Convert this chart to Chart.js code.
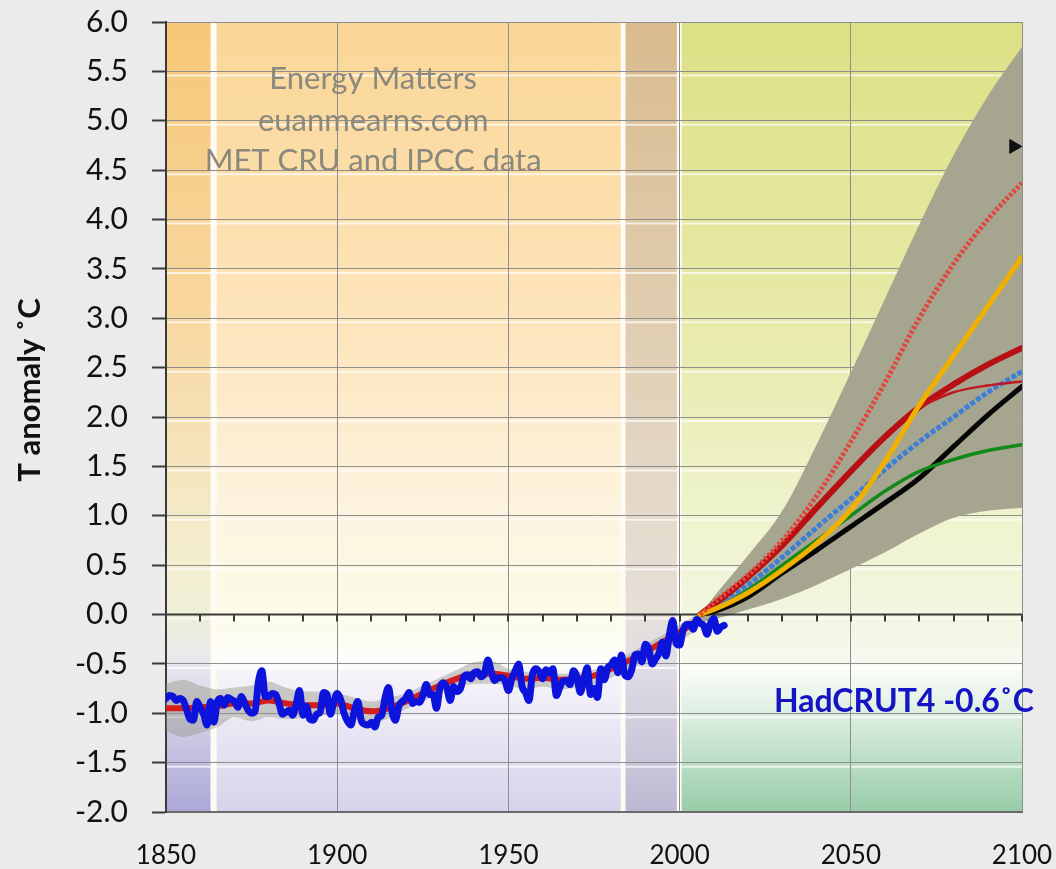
<!DOCTYPE html>
<html><head><meta charset="utf-8">
<script src="https://cdn.jsdelivr.net/npm/chart.js@4.4.0/dist/chart.umd.min.js"></script>
<style>html,body{margin:0;padding:0;background:#ebebeb;}canvas{display:block}</style>
</head><body>
<canvas id="c" width="1056" height="869"></canvas>
<script>
// ---------------- DATA ----------------
const hadStartYear = 1850;
const hadcrut4 = [-0.85,-0.82,-0.83,-0.87,-0.85,-0.87,-0.96,-1.06,-1.07,-0.88,
 -0.94,-1.01,-1.12,-0.88,-1.09,-0.88,-0.85,-0.92,-0.84,-0.86,
 -0.88,-0.94,-0.83,-0.90,-0.97,-1.00,-0.98,-0.68,-0.57,-0.83,
 -0.83,-0.80,-0.81,-0.90,-1.01,-0.99,-0.97,-1.02,-0.91,-0.77,
 -1.02,-0.93,-1.06,-1.07,-1.01,-0.99,-0.79,-0.81,-1.01,-0.89,
 -0.80,-0.86,-1.00,-1.08,-1.12,-0.98,-0.88,-1.07,-1.11,-1.12,
 -1.09,-1.14,-1.04,-1.02,-0.84,-0.74,-0.98,-1.07,-0.93,-0.88,
 -0.85,-0.79,-0.90,-0.88,-0.89,-0.82,-0.71,-0.81,-0.81,-0.95,
 -0.74,-0.69,-0.74,-0.87,-0.73,-0.78,-0.75,-0.63,-0.61,-0.65,
 -0.59,-0.58,-0.63,-0.60,-0.46,-0.58,-0.67,-0.64,-0.64,-0.67,
 -0.77,-0.65,-0.57,-0.50,-0.73,-0.79,-0.87,-0.61,-0.55,-0.58,
 -0.65,-0.56,-0.59,-0.55,-0.82,-0.74,-0.67,-0.67,-0.71,-0.57,
 -0.63,-0.79,-0.67,-0.54,-0.81,-0.75,-0.84,-0.55,-0.66,-0.54,
 -0.51,-0.46,-0.59,-0.41,-0.61,-0.63,-0.56,-0.41,-0.40,-0.48,
 -0.30,-0.35,-0.50,-0.45,-0.39,-0.28,-0.42,-0.21,-0.06,-0.29,
 -0.31,-0.16,-0.10,-0.10,-0.15,-0.05,-0.09,-0.11,-0.20,-0.09,
 -0.04,-0.17,-0.13,-0.11];

const histYears = [1850,1855,1860,1865,1870,1875,1880,1885,1890,1895,1900,1905,1910,1915,1920,1925,1930,1935,1940,1945,1950,1955,1960,1965,1970,1975,1980,1985,1990,1995,2000,2005];
const histModel = [-0.95,-0.95,-0.94,-0.93,-0.90,-0.90,-0.87,-0.90,-0.92,-0.92,-0.90,-0.95,-0.98,-0.95,-0.88,-0.80,-0.72,-0.65,-0.60,-0.60,-0.62,-0.65,-0.64,-0.66,-0.65,-0.62,-0.55,-0.47,-0.38,-0.28,-0.18,-0.06];
const histUpper = [-0.70,-0.66,-0.72,-0.76,-0.74,-0.72,-0.68,-0.74,-0.78,-0.78,-0.80,-0.84,-0.88,-0.84,-0.80,-0.72,-0.64,-0.56,-0.48,-0.47,-0.55,-0.58,-0.57,-0.60,-0.59,-0.56,-0.48,-0.40,-0.30,-0.21,-0.10,0.00];
const histLower = [-1.18,-1.24,-1.20,-1.14,-1.04,-1.08,-1.04,-1.06,-1.05,-1.03,-1.00,-1.05,-1.10,-1.05,-0.96,-0.88,-0.80,-0.74,-0.70,-0.70,-0.72,-0.76,-0.73,-0.76,-0.74,-0.71,-0.64,-0.55,-0.47,-0.37,-0.27,-0.16];

const projYears = [2006,2010,2020,2030,2040,2050,2060,2070,2080,2090,2100];
const envUpper  = [0.00,0.18,0.60,1.05,1.72,2.45,3.20,3.95,4.65,5.25,5.75];
const envLower  = [-0.08,-0.05,0.05,0.16,0.30,0.46,0.63,0.82,0.98,1.05,1.08];
const projRedDotted = [0.00,0.12,0.40,0.75,1.20,1.75,2.35,3.00,3.55,4.00,4.37];
const projOrange    = [0.00,0.05,0.22,0.45,0.72,1.06,1.55,2.12,2.62,3.12,3.62];
const projDarkRed   = [0.00,0.10,0.38,0.70,1.08,1.45,1.80,2.10,2.33,2.53,2.70];
const projBlue      = [0.00,0.08,0.30,0.58,0.88,1.17,1.47,1.75,2.00,2.25,2.46];
const projBlack     = [0.00,0.03,0.18,0.42,0.65,0.89,1.13,1.38,1.70,2.02,2.31];
const projGreen     = [0.00,0.06,0.25,0.50,0.75,1.00,1.25,1.45,1.57,1.66,1.72];
const branchYears   = [2070,2080,2090,2100];
const projRedBranch = [2.10,2.25,2.32,2.36];
const markerPoint   = [{x:2097.6, y:4.74}];

const xTickYears = [1850,1900,1950,2000,2050,2100];
const minorStep = 10;
const yTitle = 'T anomaly ˚C';
const watermark = ['Energy Matters','euanmearns.com','MET CRU and IPCC data'];
const watermarkAt = {x:1910.5, y:[5.42,5.0,4.59]};
const hadLabel = 'HadCRUT4 -0.6˚C';
const hadLabelAt = {x:2065.5, y:-0.88};

// background eras (years) with gradient stops (value, colour)
const bands = [
 {from:1850, to:1863, stops:[[6,'#f6c776'],[3,'#f8d7a0'],[0.5,'#f3eed0'],[0,'#eff0d8'],[-0.5,'#e9e7ef'],[-2,'#aba7d7']]},
 {from:1864.8, to:1982.8, stops:[[6,'#fad696'],[3,'#fde4ba'],[1,'#fdf4e0'],[0,'#fbfbe6'],[-0.45,'#fdfdfb'],[-0.6,'#f6f4fa'],[-2,'#d6d2eb']]},
 {from:1984.2, to:1999.2, stops:[[6,'#d9bb8e'],[3,'#e0cdb0'],[0,'#e6e0d8'],[-0.5,'#e0dde6'],[-2,'#bdb8d2']]},
 {from:2000.6, to:2100, stops:[[6,'#dde084'],[3,'#e7eaa8'],[1,'#eff3cd'],[0,'#f3f6e0'],[-0.45,'#f6f8ee'],[-0.55,'#fbfcf8'],[-1,'#ddefe1'],[-2,'#97cca7']]}
];

// ---------------- BUILD ----------------
const pts = (xs, ys) => ys.map((v,i)=>({x:xs[i], y:v}));
const hadPts = hadcrut4.map((v,i)=>({x:hadStartYear+i, y:v}));

const bgPlugin = {
  id:'bg',
  beforeDraw(chart){
    const {ctx, chartArea:a, scales:{x,y}} = chart;
    ctx.save();
    ctx.fillStyle = '#fdfbf3';
    ctx.fillRect(a.left,a.top,a.width,a.height);
    for (const b of bands){
      const x0 = x.getPixelForValue(b.from), x1 = x.getPixelForValue(b.to);
      const g = ctx.createLinearGradient(0,a.top,0,a.bottom);
      for (const [v,c] of b.stops) g.addColorStop(Math.min(1,Math.max(0,(y.getPixelForValue(v)-a.top)/a.height)), c);
      ctx.fillStyle = g;
      ctx.fillRect(x0,a.top,x1-x0,a.height);
    }
    ctx.strokeStyle = 'rgba(255,255,255,0.7)';
    ctx.lineWidth = 2;
    for (let v=y.min; v<y.max; v+=0.5){
      const py = y.getPixelForValue(v)+4;
      if (py>a.bottom) continue;
      ctx.beginPath(); ctx.moveTo(a.left,py); ctx.lineTo(a.right,py); ctx.stroke();
    }
    ctx.restore();
  },
  beforeDatasetsDraw(chart){
    const {ctx, scales:{x,y}} = chart;
    ctx.save();
    ctx.fillStyle = '#8b897d';
    ctx.font = '31px Lato';
    ctx.textAlign = 'center'; ctx.textBaseline = 'middle';
    watermark.forEach((t,i)=>ctx.fillText(t, x.getPixelForValue(watermarkAt.x), y.getPixelForValue(watermarkAt.y[i])));
    ctx.restore();
  },
  afterDatasetDraw(chart, args){
    const ds = chart.data.datasets[args.index];
    if (ds.label !== 'axis0') return;
    const {ctx, scales:{x,y}} = chart;
    ctx.save();
    ctx.strokeStyle = '#3a3a3a'; ctx.lineWidth = 2;
    const py = y.getPixelForValue(0);
    for (let yr=x.min; yr<=x.max; yr+=minorStep){
      const px = Math.round(x.getPixelForValue(yr));
      ctx.beginPath(); ctx.moveTo(px,py); ctx.lineTo(px,py+7); ctx.stroke();
    }
    ctx.restore();
  },
  afterDatasetsDraw(chart){
    const {ctx, scales:{x,y}} = chart;
    ctx.save();
    ctx.fillStyle = '#1414c4';
    ctx.font = 'bold 32px Lato';
    ctx.textAlign = 'center'; ctx.textBaseline = 'middle';
    ctx.fillText(hadLabel, x.getPixelForValue(hadLabelAt.x), y.getPixelForValue(hadLabelAt.y));
    ctx.restore();
  },
  afterDraw(chart){
    const {ctx} = chart;
    ctx.save();
    ctx.translate(30, 390);
    ctx.rotate(-Math.PI/2);
    ctx.fillStyle = '#111';
    ctx.font = 'bold 31px Lato';
    ctx.textAlign = 'center'; ctx.textBaseline = 'middle';
    ctx.fillText(yTitle, 0, 0);
    ctx.restore();
  }
};

const line = (label, data, color, width, order, extra={}) => Object.assign({
  label, data, borderColor:color, borderWidth:width, pointRadius:0, fill:false,
  tension:0.35, cubicInterpolationMode:'monotone', order, borderJoinStyle:'round', borderCapStyle:'round'
}, extra);

new Chart(document.getElementById('c'), {
  type:'line',
  data:{datasets:[
    line('HadCRUT4', hadPts, '#0c14dc', 7, 1),
    line('marker', markerPoint, '#000', 0, 2, {showLine:false, pointRadius:8, pointStyle:'triangle', rotation:90, pointBackgroundColor:'#111', pointBorderColor:'#111', pointBorderWidth:1}),
    line('redDotted', pts(projYears,projRedDotted), '#e0473d', 5, 10, {borderDash:[3,2], borderCapStyle:'butt'}),
    line('orange', pts(projYears,projOrange), '#f0b000', 5, 11),
    line('redBranch', pts(branchYears,projRedBranch), '#c01822', 2.5, 12),
    line('darkRed', pts(projYears,projDarkRed), '#b80f14', 6, 13),
    line('blue', pts(projYears,projBlue), '#3d7fd6', 5, 14, {borderDash:[5,2], borderCapStyle:'butt'}),
    line('green', pts(projYears,projGreen), '#128a18', 3.5, 15),
    line('black', pts(projYears,projBlack), '#060606', 5, 16),
    line('histModel', pts(histYears,histModel), '#d41e1e', 6, 20),
    line('axis0', [{x:1850,y:0},{x:2100,y:0}], '#3a3a3a', 2, 30, {tension:0}),
    line('histUpper', pts(histYears,histUpper), 'rgba(0,0,0,0)', 0, 40, {fill:'+1', backgroundColor:'rgba(150,150,138,0.45)', tension:0.2}),
    line('histLower', pts(histYears,histLower), 'rgba(0,0,0,0)', 0, 41, {tension:0.2}),
    line('envUpper', pts(projYears,envUpper), 'rgba(0,0,0,0)', 0, 50, {fill:'+1', backgroundColor:'#a6a690', tension:0}),
    line('envLower', pts(projYears,envLower), 'rgba(0,0,0,0)', 0, 51)
  ]},
  options:{
    responsive:false, animation:false, devicePixelRatio:1,
    layout:{padding:{top:22,right:34,left:0,bottom:0}},
    plugins:{legend:{display:false}, tooltip:{enabled:false}},
    scales:{
      x:{type:'linear', min:1850, max:2100,
        afterBuildTicks(s){ s.ticks = xTickYears.map(v=>({value:v})); },
        ticks:{color:'#111', font:{family:'Lato', size:26}, padding:28, maxRotation:0, autoSkip:false, callback:v=>String(v)},
        grid:{color:'#8e8e8e', lineWidth:1, drawTicks:false},
        border:{display:true, color:'#6a6a6a', width:2},
        afterFit(s){ s.height = 57; s.paddingLeft = 0; s.paddingRight = 0; }
      },
      y:{min:-2, max:6,
        ticks:{stepSize:0.5, color:'#111', font:{family:'Lato', size:30}, padding:24, callback:v=>Number(v).toFixed(1)},
        grid:{color:'#8e8e8e', lineWidth:1, tickLength:14, tickColor:'#3a3a3a', tickWidth:2},
        border:{display:true, color:'#3a3a3a', width:2},
        afterFit(s){ s.width = 166; s.paddingTop = 0; s.paddingBottom = 0; }
      }
    }
  },
  plugins:[bgPlugin]
});
</script>
</body></html>
